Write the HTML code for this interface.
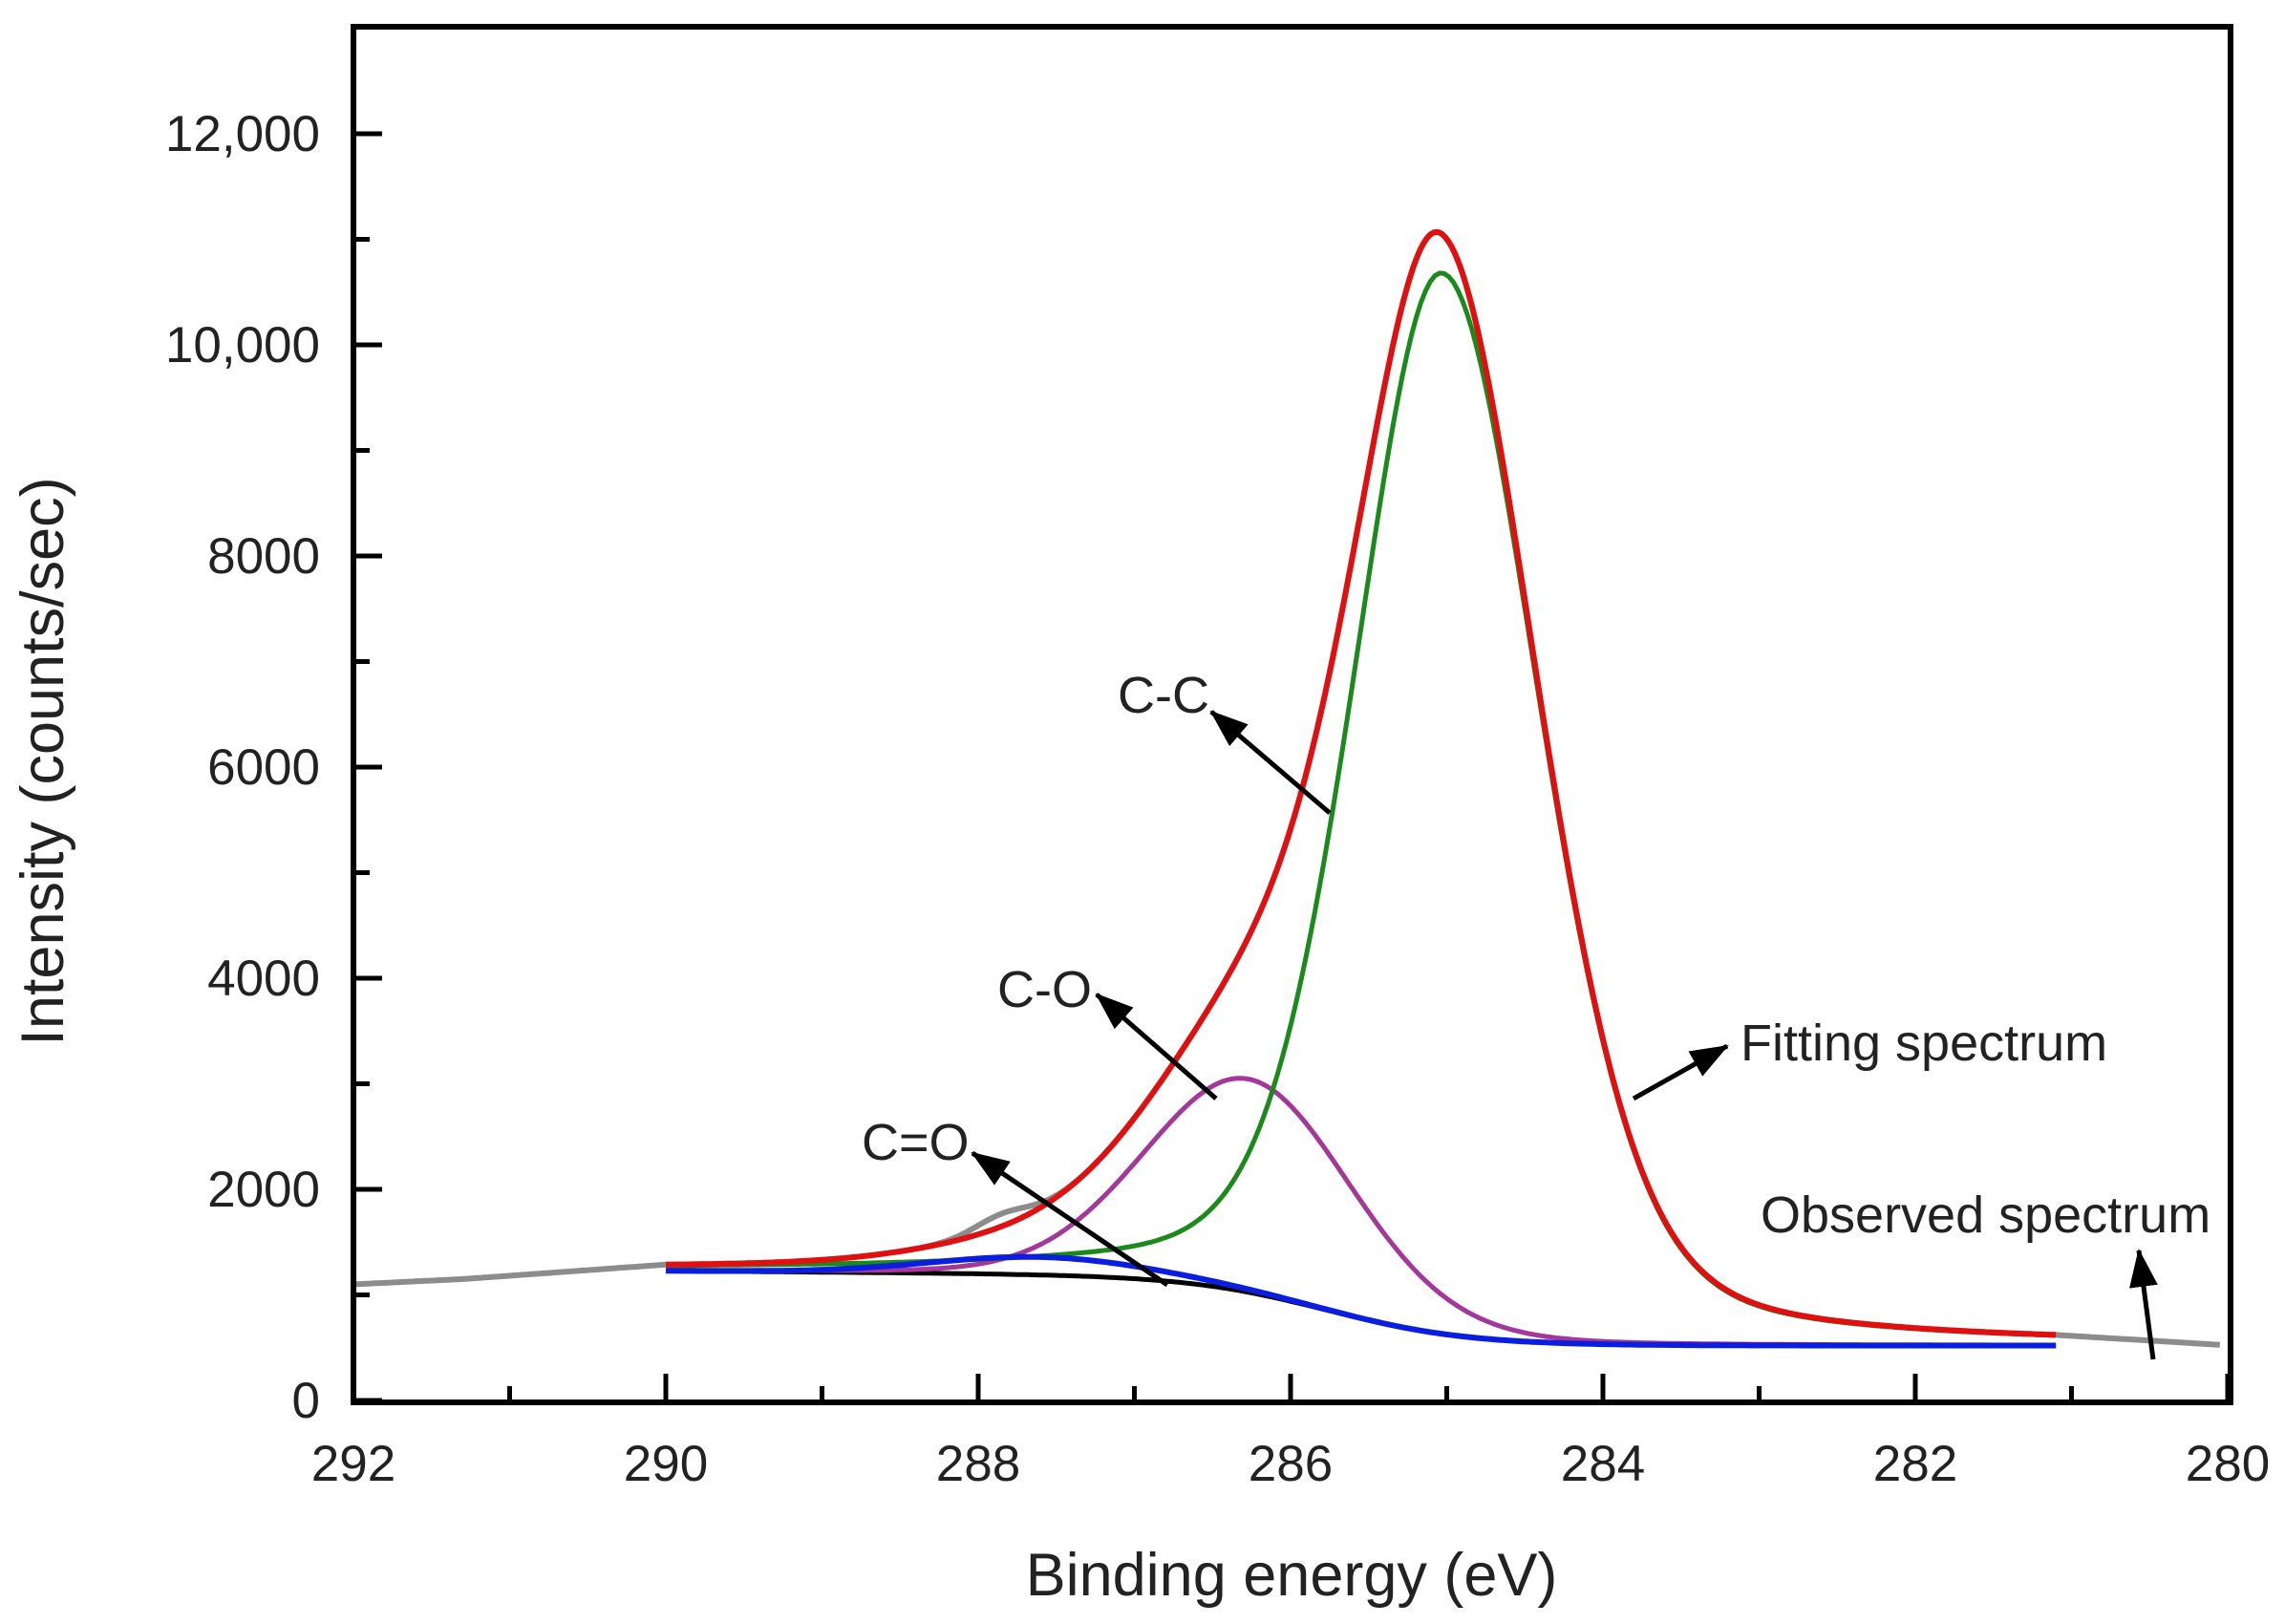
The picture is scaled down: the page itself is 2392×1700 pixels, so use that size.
<!DOCTYPE html>
<html><head><meta charset="utf-8"><style>
html,body{margin:0;padding:0;background:#fff}
svg text{font-family:"Liberation Sans",sans-serif;fill:#222}
</style></head><body>
<svg id="s" width="2392" height="1695" viewBox="0 0 2392 1695" xmlns="http://www.w3.org/2000/svg">
<defs>
<marker id="a2" markerWidth="40" markerHeight="30" refX="38" refY="15" orient="auto" markerUnits="userSpaceOnUse"><path d="M0,0 L40,15 L0,30 Z" fill="#000"/></marker></defs>
<g id="curves" fill="none" stroke-linejoin="round"></g>
<rect x="370" y="28" width="1965" height="1440" fill="none" stroke="#000" stroke-width="6"/>
<g id="ticks" stroke="#000" stroke-width="5"></g>
<g font-size="53" text-anchor="end">
<text x="335" y="158">12,000</text><text x="335" y="379">10,000</text><text x="335" y="600">8000</text><text x="335" y="821">6000</text><text x="335" y="1042">4000</text><text x="335" y="1263">2000</text><text x="335" y="1484">0</text>
</g>
<g font-size="53" text-anchor="middle">
<text x="370" y="1550">292</text><text x="697" y="1550">290</text><text x="1024" y="1550">288</text><text x="1351" y="1550">286</text><text x="1678" y="1550">284</text><text x="2005" y="1550">282</text><text x="2332" y="1550">280</text>
</g>
<text x="1352" y="1670" font-size="63" text-anchor="middle">Binding energy (eV)</text>
<text transform="translate(66,797) rotate(-90)" font-size="63" text-anchor="middle">Intensity (counts/sec)</text>
<g font-size="54">
<text x="1170" y="746">C-C</text><text x="1044" y="1054">C-O</text><text x="902" y="1214">C=O</text>
<text x="1822" y="1110">Fitting spectrum</text><text x="1843" y="1290">Observed spectrum</text>
</g>
<g stroke="#000" stroke-width="5" marker-end="url(#a2)">
<line x1="1392" y1="851" x2="1268" y2="745"/>
<line x1="1273" y1="1150" x2="1148" y2="1041"/>
<line x1="1222" y1="1345" x2="1018" y2="1207"/>
<line x1="1710" y1="1150" x2="1808" y2="1095"/>
<line x1="2254" y1="1423" x2="2239" y2="1309"/>
</g>
</svg>
<script>
const X=e=>370+(292-e)*163.5, Y=v=>1466-v*0.1105;
const sig=t=>1/(1+Math.exp(-t));
const bg=e=>520+660*sig((e-285.75)/0.45)+(e>286?12*(e-286):0);
const pv=(e,c,a,s,m,sr)=>{const d=e-c;const ss=(d<0&&sr)?sr:s;const g=Math.exp(-d*d/(2*ss*ss));const h=ss*1.1774;const l=1/(1+(d/h)*(d/h));return a*((1-m)*g+m*l);};
const cc=e=>pv(e,285.03,10050,0.57,0.28,0.63), co=e=>pv(e,286.27,2020,0.66,0.1), c2=e=>pv(e,287.6,170,0.7,0);
function path(f,a,b,n){let s='';for(let i=0;i<=n;i++){const e=a+(b-a)*i/n;s+=(i?'L':'M')+X(e).toFixed(1)+','+Y(f(e)).toFixed(1);}return s;}
const core=e=>bg(e)+cc(e)+co(e)+c2(e)+120*Math.exp(-Math.pow((e-287.85)/0.25,2));
const c290=core(290), c811=core(281.1);
const obs=e=>{if(e>290){if(e>291.3)return 1100+(292-e)/0.7*50;return 1150+(c290-1150)*(291.3-e)/1.3;}if(e<281.1)return c811-(281.1-e)*90;return core(e);};
const g=document.getElementById('curves');
const add=(d,c,w)=>{const p=document.createElementNS('http://www.w3.org/2000/svg','path');p.setAttribute('d',d);p.setAttribute('stroke',c);p.setAttribute('stroke-width',w);g.appendChild(p);};
add(path(obs,292,280.05,600),'#8c8c8c',6);
add(path(bg,290,281.1,300),'#000',5);
add(path(e=>bg(e)+co(e),290,281.1,300),'#a3379a',5);
add(path(e=>bg(e)+cc(e),290,281.1,300),'#1a8a1a',5);
add(path(e=>bg(e)+c2(e),290,281.1,300),'#0a1ee0',6);
add(path(e=>bg(e)+cc(e)+co(e)+c2(e),290,281.1,400),'#e01010',6);
const t=document.getElementById('ticks');let s='';
for(let e=292;e>=280;e--){const x=X(e);const L=(e%2==0)?30:17;s+=`<line x1="${x}" y1="1468" x2="${x}" y2="${1468-L}"/>`;}
for(let v=0;v<=13000;v+=1000){const y=Y(v);if(y<30)continue;const L=(v%2000==0)?30:17;s+=`<line x1="370" y1="${y}" x2="${370+L}" y2="${y}"/>`;}
t.innerHTML=s;
</script>
</body></html>
